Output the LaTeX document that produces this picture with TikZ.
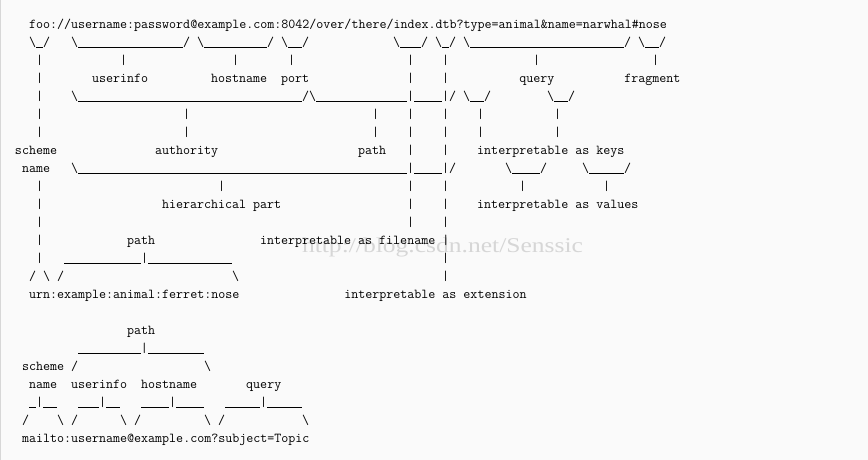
\documentclass[tikz,border=0pt]{standalone}
\usepackage{fontspec}
\usepackage{graphicx}
\newfontfamily\wmfont{Liberation Serif}
\definecolor{bgcol}{RGB}{250,250,250}
\definecolor{edgecol}{RGB}{215,215,215}
\definecolor{wmgray}{RGB}{214,214,214}
\definecolor{inkcol}{RGB}{0,0,0}
\newlength\cw
\setlength\cw{7pt}
\newcommand\B[1]{\hspace*{#1\cw}}
\newcommand\BS{\textbackslash}
\newcommand\US[1]{\rule[-0.6pt]{#1\cw}{0.9pt}}
\begin{document}
\begin{tikzpicture}[x=1pt,y=1pt,
  asciirow/.style={anchor=base west, inner sep=0pt, outer sep=0pt,
    font={\ttfamily\fontsize{13.6135pt}{14pt}\selectfont}, text=inkcol},
  watermark/.style={anchor=base west, inner sep=0pt, outer sep=0pt,
    font={\wmfont\fontsize{21pt}{21pt}\selectfont}, text=wmgray}]
\useasboundingbox (0,0) rectangle (868,460);
\fill[bgcol] (0,0) rectangle (868,460);
\draw[edgecol, line width=1pt] (0.5,0) -- (0.5,460);
\node[watermark] (wm) at (302,207) {\resizebox{281pt}{\height}{http://blog.csdn.net/Senssic}};
% first example
\node[asciirow] (l0) at (15,431) {\B{2}foo://username:password@example.com:8042/over/there/index.dtb?type=animal\&name=narwhal\#nose};
\node[asciirow] (l1) at (15,413) {\B{2}\BS\US{1}/\B{3}\BS\US{15}/\B{1}\BS\US{9}/\B{1}\BS\US{2}/\B{12}\BS\US{3}/\B{1}\BS\US{1}/\B{1}\BS\US{22}/\B{1}\BS\US{2}/};
\node[asciirow] (l2) at (15,395) {\B{3}|\B{11}|\B{15}|\B{7}|\B{16}|\B{4}|\B{12}|\B{16}|};
\node[asciirow] (l3) at (15,377) {\B{3}|\B{7}userinfo\B{9}hostname\B{2}port\B{14}|\B{4}|\B{10}query\B{10}fragment};
\node[asciirow] (l4) at (15,359) {\B{3}|\B{4}\BS\US{32}/\BS\US{13}|\US{4}|/\B{1}\BS\US{2}/\B{8}\BS\US{2}/};
\node[asciirow] (l5) at (15,341) {\B{3}|\B{20}|\B{26}|\B{4}|\B{4}|\B{4}|\B{10}|};
\node[asciirow] (l6) at (15,323) {\B{3}|\B{20}|\B{26}|\B{4}|\B{4}|\B{4}|\B{10}|};
\node[asciirow] (l7) at (15,305) {scheme\B{14}authority\B{20}path\B{3}|\B{4}|\B{4}interpretable\B{1}as\B{1}keys};
\node[asciirow] (l8) at (15,287) {\B{1}name\B{3}\BS\US{47}|\US{4}|/\B{7}\BS\US{4}/\B{5}\BS\US{5}/};
\node[asciirow] (l9) at (15,269) {\B{3}|\B{25}|\B{26}|\B{4}|\B{10}|\B{11}|};
\node[asciirow] (l10) at (15,251) {\B{3}|\B{17}hierarchical\B{1}part\B{18}|\B{4}|\B{4}interpretable\B{1}as\B{1}values};
\node[asciirow] (l11) at (15,233) {\B{3}|\B{52}|\B{4}|};
\node[asciirow] (l12) at (15,215) {\B{3}|\B{12}path\B{15}interpretable\B{1}as\B{1}filename\B{1}|};
\node[asciirow] (l13) at (15,197) {\B{3}|\B{3}\US{11}|\US{12}\B{30}|};
\node[asciirow] (l14) at (15,179) {\B{2}/\B{1}\BS\B{1}/\B{24}\BS\B{29}|};
\node[asciirow] (l15) at (15,161) {\B{2}urn:example:animal:ferret:nose\B{15}interpretable\B{1}as\B{1}extension};
% second example
\node[asciirow] (l17) at (15,125) {\B{16}path};
\node[asciirow] (l18) at (15,107) {\B{9}\US{9}|\US{8}};
\node[asciirow] (l19) at (15,89) {\B{1}scheme\B{1}/\B{18}\BS};
\node[asciirow] (l20) at (15,71) {\B{2}name\B{2}userinfo\B{2}hostname\B{7}query};
\node[asciirow] (l21) at (15,53) {\B{2}\US{1}|\US{2}\B{3}\US{3}|\US{2}\B{3}\US{4}|\US{4}\B{3}\US{5}|\US{5}};
\node[asciirow] (l22) at (15,35) {\B{1}/\B{4}\BS\B{1}/\B{6}\BS\B{1}/\B{9}\BS\B{1}/\B{11}\BS};
\node[asciirow] (l23) at (15,17) {\B{1}mailto:username@example.com?subject=Topic};
\end{tikzpicture}
\end{document}
